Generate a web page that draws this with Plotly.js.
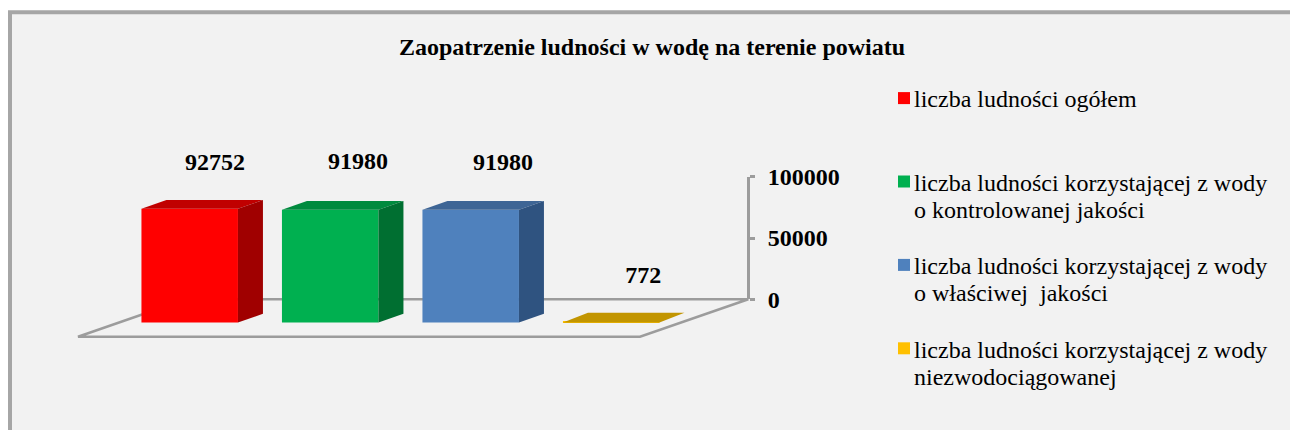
<!DOCTYPE html>
<html>
<head>
<meta charset="utf-8">
<script src="https://cdn.plot.ly/plotly-3.0.1.min.js"></script>
<style>
html,body{margin:0;padding:0;background:#fff;}
#chart{width:1290px;height:430px;}
.legend .legendsymbols{transform:translateX(10px);}
</style>
</head>
<body>
<div id="chart"></div>
<script>
// ---- data ----
const seriesNames = [
  'liczba ludności ogółem<br>\u00a0',
  'liczba ludności korzystającej z wody<br>o kontrolowanej jakości',
  'liczba ludności korzystającej z wody<br>o właściwej\u00a0\u00a0jakości',
  'liczba ludności korzystającej z wody<br>niezwodociągowanej'
];
const values = [92752, 91980, 91980, 772];
const valueTicks = [0, 50000, 100000];
const valueTickLabels = ['0', '50000', '100000'];
const chartTitle = 'Zaopatrzenie ludności w wodę na terenie powiatu';

// ---- styles ----
const frontColors = ['#ff0000', '#00b050', '#4f81bd', '#ffc000'];
const topColors   = ['#c00000', '#008a3e', '#3e6595', '#c29500'];
const sideColors  = ['#a00000', '#006f31', '#2f5380', '#a07c00'];
const serif = '"Liberation Serif","Times New Roman",serif';
const gray = '#9c9c9c';

// ---- layout scale: 140.5 px per category, 122.6 px per 100000 ----
const W = 1290, H = 430;
const pxPerCat = 140.5, cat0Px = 189.7;
const zeroPx = 299.3, pxPerUnit = 122.6 / 100000;
const barWidth = 96.5 / pxPerCat;
const baseVal = -(322.5 - zeroPx) / pxPerUnit;
const depthX = 25 / pxPerCat, depthY = 8.7 / pxPerUnit;
const labelX = [0.18, 0.198, 0.23, 0.228];
const labelY = [110400, 111200, 110400, 18200];

const xRange = [(0 - cat0Px) / pxPerCat, (W - cat0Px) / pxPerCat];
const yRange = [-(H - zeroPx) / pxPerUnit, zeroPx / pxPerUnit];

const traces = [];
values.forEach((v, i) => {
  traces.push({
    type: 'bar', name: seriesNames[i], x: [i], y: [v], base: [baseVal], width: [barWidth],
    marker: {color: frontColors[i], line: {width: 0}},
    legendgroup: 'g' + i, hoverinfo: 'y'
  });
});
values.forEach((v, i) => {
  const xl = i - barWidth / 2, xr = i + barWidth / 2, top = baseVal + v;
  // a bar about a pixel high shows only its top face
  const edge = v < 2000 ? baseVal : top;
  traces.push({
    type: 'scatter', mode: 'lines', fill: 'toself', fillcolor: topColors[i],
    x: [xl, xl + depthX, xr + depthX, xr, xl],
    y: [edge, top + depthY, top + depthY, edge, edge],
    line: {width: 0, color: topColors[i]}, showlegend: false, hoverinfo: 'skip'
  });
  if (v >= 2000) traces.push({
    type: 'scatter', mode: 'lines', fill: 'toself', fillcolor: sideColors[i],
    x: [xr, xr + depthX, xr + depthX, xr, xr],
    y: [baseVal, baseVal + depthY, top + depthY, top, baseVal],
    line: {width: 0, color: sideColors[i]}, showlegend: false, hoverinfo: 'skip'
  });
});
traces.push({
  type: 'scatter', mode: 'text', x: values.map((v, i) => i + labelX[i]), y: labelY,
  text: values.map(String), textposition: 'middle center',
  textfont: {family: serif, size: 24, color: '#000', weight: 'bold'},
  showlegend: false, hoverinfo: 'skip'
});
// carries the visible value axis
traces.push({
  type: 'scatter', mode: 'lines', x: [3, 3], y: [valueTicks[0], valueTicks[2]], yaxis: 'y2',
  line: {width: 0}, showlegend: false, hoverinfo: 'skip'
});

const px = x => x / W, py = y => 1 - y / H;
const floorPath = [[78, 336.7], [640, 336.7], [748.3, 299.3], [186, 299.3]]
  .map((p, i) => (i ? 'L' : 'M') + px(p[0]) + ',' + py(p[1])).join('') + 'Z';

const layout = {
  width: W, height: H, autosize: false,
  margin: {l: 0, r: 0, t: 0, b: 0},
  paper_bgcolor: '#ffffff', plot_bgcolor: 'rgba(0,0,0,0)',
  barmode: 'overlay', showlegend: true,
  title: {
    text: '<b>' + chartTitle + '</b>', x: 652 / W, xanchor: 'center', y: 1 - 47 / H, yanchor: 'middle',
    font: {family: serif, size: 24, color: '#000'}
  },
  xaxis: {visible: false, range: xRange, domain: [0, 1], fixedrange: true},
  yaxis: {visible: false, range: yRange, domain: [0, 1], fixedrange: true},
  yaxis2: {
    domain: [py(zeroPx), py(zeroPx - 122.6)], range: [valueTicks[0], valueTicks[2]],
    anchor: 'free', position: 748.3 / W, side: 'right', fixedrange: true,
    showgrid: false, zeroline: false, showline: true, linecolor: gray, linewidth: 2.5,
    ticks: 'outside', ticklen: 5, tickwidth: 2.5, tickcolor: gray,
    tickmode: 'array', tickvals: valueTicks, ticktext: valueTickLabels,
    ticklabelstandoff: 8,
    tickfont: {family: serif, size: 24, color: '#000', weight: 'bold'}
  },
  legend: {
    x: 874 / W, xanchor: 'left', y: 1 - 76 / H, yanchor: 'top',
    bgcolor: 'rgba(0,0,0,0)', borderwidth: 0, traceorder: 'grouped',
    tracegroupgap: 18, valign: 'top', itemclick: false, itemdoubleclick: false,
    font: {family: serif, size: 24, color: '#000'}
  },
  shapes: [
    {type: 'rect', xref: 'paper', yref: 'paper', x0: px(10), x1: 1.2, y0: -0.2, y1: py(12.2),
     fillcolor: '#f2f2f2', line: {color: '#a6a6a6', width: 4}, layer: 'below'},
    {type: 'path', xref: 'paper', yref: 'paper', path: floorPath,
     line: {color: gray, width: 2.5}, fillcolor: 'rgba(0,0,0,0)', layer: 'below'}
  ]
};
Plotly.newPlot('chart', traces, layout, {displayModeBar: false}).then(gd => {
  // tighter leading of the two-line legend entries
  gd.querySelectorAll('.legendtext tspan.line').forEach(t => {
    if (parseFloat(t.getAttribute('dy')) > 0) t.setAttribute('dy', '1.12em');
  });
});
</script>
</body>
</html>
